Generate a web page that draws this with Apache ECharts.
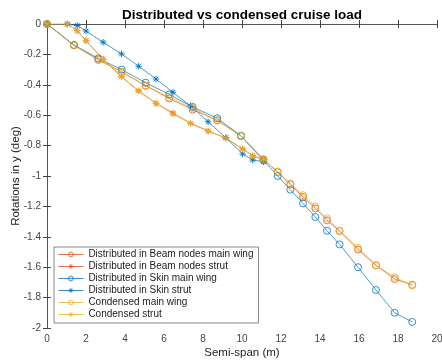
<!DOCTYPE html>
<html><head><meta charset="utf-8">
<script src="https://cdn.jsdelivr.net/npm/echarts@6/dist/echarts.min.js"></script>
<style>html,body{margin:0;padding:0;background:#fff}#c{width:442px;height:363px}</style>
</head><body><div id="c"></div>
<script>
// ---- data ----
var mainX = [0, 1.38, 2.63, 3.83, 5.06, 6.27, 7.47, 8.73, 9.95, 11.1, 11.83, 12.48, 13.13, 13.76, 14.36, 15.0, 15.95, 16.87, 17.83, 18.73];
var strutX = [0, 1.04, 1.55, 2.0, 2.88, 3.82, 4.7, 5.59, 6.46, 7.36, 8.26, 9.17, 10.03, 10.55, 11.1];

var beamMain = [0, -0.14, -0.235, -0.315, -0.405, -0.49, -0.563, -0.633, -0.737, -0.89, -0.975, -1.055, -1.138, -1.213, -1.292, -1.362, -1.484, -1.588, -1.678, -1.716];
var beamStrut = [0, 0, -0.044, -0.11, -0.232, -0.347, -0.44, -0.522, -0.586, -0.653, -0.704, -0.75, -0.822, -0.868, -0.89];
var skinMain = [0, -0.138, -0.226, -0.30, -0.386, -0.463, -0.546, -0.62, -0.735, -0.898, -1.0, -1.09, -1.18, -1.27, -1.36, -1.45, -1.60, -1.75, -1.90, -1.96];
var skinStrut = [0, 0, -0.01, -0.046, -0.12, -0.197, -0.278, -0.362, -0.449, -0.539, -0.643, -0.748, -0.855, -0.895, -0.905];
var condMain = [0, -0.14, -0.237, -0.314, -0.408, -0.48, -0.553, -0.636, -0.737, -0.89, -0.97, -1.05, -1.126, -1.2, -1.278, -1.36, -1.472, -1.588, -1.665, -1.72];
var condStrut = [0, 0, -0.044, -0.11, -0.232, -0.347, -0.44, -0.522, -0.592, -0.653, -0.704, -0.75, -0.822, -0.868, -0.89];

var xTicks = [0, 2, 4, 6, 8, 10, 12, 14, 16, 18, 20];
var yTicks = [0, -0.2, -0.4, -0.6, -0.8, -1, -1.2, -1.4, -1.6, -1.8, -2];

var names = ['Distributed in Beam nodes main wing', 'Distributed in Beam nodes strut',
  'Distributed in Skin main wing', 'Distributed in Skin strut',
  'Condensed main wing', 'Condensed strut'];

// ---- build ----
function pairs(xs, ys) { return xs.map(function (x, i) { return [x, ys[i]]; }); }
var RED = '#D95319', BLUE = '#0072BD', YEL = '#EDB120';
var STAR = 'path://M0,-5L0,5M-5,0L5,0M-3.6,-3.6L3.6,3.6M-3.6,3.6L3.6,-3.6';
function ser(name, xs, ys, color, star) {
  return {
    name: name, type: 'line', data: pairs(xs, ys),
    symbol: star ? STAR : 'circle', symbolSize: star ? 6.5 : 7,
    showSymbol: true, animation: false,
    lineStyle: { color: color, width: 0.7 },
    itemStyle: { color: 'rgba(0,0,0,0)', borderColor: color, borderWidth: star ? 0.9 : 0.8 },
    emphasis: { disabled: true }
  };
}
var FONT = '"Liberation Sans", Arial, Helvetica, sans-serif';
var AX = '#444';
var chart = echarts.init(document.getElementById('c'), null, { renderer: 'canvas' });
chart.setOption({
  backgroundColor: '#fff',
  animation: false,
  title: {
    text: 'Distributed vs condensed cruise load', left: 237, top: 3, textAlign: 'center',
    textStyle: { fontFamily: FONT, fontSize: 13.5, fontWeight: 'bold', color: '#000' }
  },
  grid: { left: 47, right: 5, top: 24, bottom: 35, show: false, containLabel: false, outerBoundsMode: 'none' },
  legend: {
    orient: 'vertical', left: 54, top: 247,
    data: names, itemWidth: 25, itemHeight: 6, itemGap: 0,
    padding: [1.5, 5, 2.5, 4],
    backgroundColor: '#fff', borderColor: '#555', borderWidth: 0.7,
    itemStyle: { color: 'rgba(0,0,0,0)', borderWidth: 0.8 },
    lineStyle: { width: 0.8 },
    textStyle: { fontFamily: FONT, fontSize: 10, color: '#222', lineHeight: 12 }
  },
  xAxis: [{
    type: 'value', min: 0, max: 20, interval: 2, position: 'bottom',
    name: 'Semi-span (m)', nameLocation: 'middle', nameGap: 19, nameMoveOverlap: false,
    nameTextStyle: { fontFamily: FONT, fontSize: 11.5, color: '#222' },
    axisLine: { show: true, lineStyle: { color: AX, width: 0.7 } },
    axisTick: { show: true, inside: true, length: 4, lineStyle: { color: AX } },
    axisLabel: { fontFamily: FONT, fontSize: 10, color: '#444', margin: 6,
      formatter: function (v) { return xTicks.indexOf(v) >= 0 ? String(v) : ''; } },
    splitLine: { show: false }
  }, {
    type: 'value', min: 0, max: 20, interval: 2, position: 'top',
    axisLine: { show: true, lineStyle: { color: AX, width: 0.7 } },
    axisTick: { show: true, inside: true, length: 4, lineStyle: { color: AX } },
    axisLabel: { show: false }, splitLine: { show: false }
  }],
  yAxis: [{
    type: 'value', min: -2, max: 0, interval: 0.2, position: 'left',
    name: 'Rotations in y (deg)', nameLocation: 'middle', nameGap: 25, nameRotate: 90, nameMoveOverlap: false,
    nameTextStyle: { fontFamily: FONT, fontSize: 11.5, color: '#222' },
    axisLine: { show: true, lineStyle: { color: AX, width: 0.7 } },
    axisTick: { show: true, inside: true, length: 4, lineStyle: { color: AX } },
    axisLabel: { fontFamily: FONT, fontSize: 10, color: '#444', margin: 6,
      formatter: function (v) {
        var r = Math.round(v * 10) / 10;
        for (var i = 0; i < yTicks.length; i++) if (Math.abs(yTicks[i] - r) < 1e-9) return String(yTicks[i]);
        return '';
      } },
    splitLine: { show: false }
  }, {
    type: 'value', min: -2, max: 0, interval: 0.2, position: 'right',
    axisLine: { show: true, lineStyle: { color: AX, width: 0.7 } },
    axisTick: { show: true, inside: true, length: 4, lineStyle: { color: AX } },
    axisLabel: { show: false }, splitLine: { show: false }
  }],
  series: [
    ser(names[0], mainX, beamMain, RED, false),
    ser(names[1], strutX, beamStrut, RED, true),
    ser(names[2], mainX, skinMain, BLUE, false),
    ser(names[3], strutX, skinStrut, BLUE, true),
    ser(names[4], mainX, condMain, YEL, false),
    ser(names[5], strutX, condStrut, YEL, true)
  ]
});
</script>
</body></html>
